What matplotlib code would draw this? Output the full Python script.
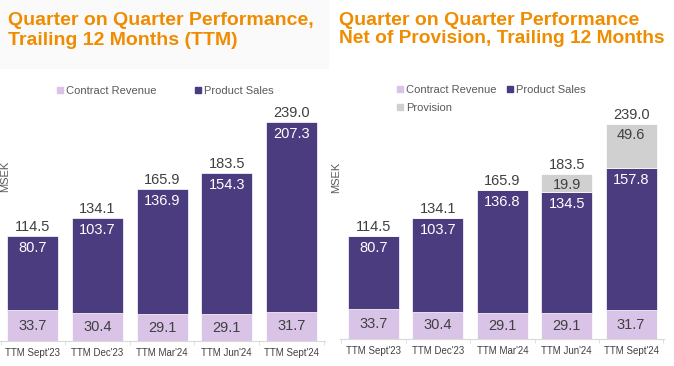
import matplotlib.pyplot as plt
from matplotlib.lines import Line2D
from matplotlib.patches import Rectangle
import numpy as np

plt.rcParams['font.family'] = ['Liberation Sans', 'DejaVu Sans']

# data
quarters = ["TTM Sept'23", "TTM Dec'23", "TTM Mar'24", "TTM Jun'24", "TTM Sept'24"]
contract = [33.7, 30.4, 29.1, 29.1, 31.7]
product_ttm = [80.7, 103.7, 136.9, 154.3, 207.3]
totals_ttm = [114.5, 134.1, 165.9, 183.5, 239.0]
product_net = [80.7, 103.7, 136.8, 134.5, 157.8]
provision = [0, 0, 0, 19.9, 49.6]
totals_net = [114.5, 134.1, 165.9, 183.5, 239.0]

C_CONTRACT = '#d9c3e6'
C_PRODUCT = '#4b3b7f'
C_PROVISION = '#d0d0d0'
ORANGE = '#f08c00'
GREY_TXT = '#404040'

W, H = 674, 366
fig = plt.figure(figsize=(W / 100, H / 100), dpi=100)
fig.patches.append(Rectangle((0, 1 - 68 / H), 328 / W, 68 / H, transform=fig.transFigure,
                             color='#fafafa', zorder=0))


def px_axes(left, top, right, bottom):
    return fig.add_axes([left / W, 1 - bottom / H, (right - left) / W, (bottom - top) / H])


def style(ax, xlim):
    x = np.arange(len(quarters))
    ax.set_xlim(*xlim)
    ax.set_ylim(0, 260)
    for s in ['top', 'right', 'left']:
        ax.spines[s].set_visible(False)
    ax.spines['bottom'].set_color('#d9d9d9')
    ax.set_yticks([])
    ax.set_xticks(x)
    ax.set_xticklabels(quarters, fontsize=7, color=GREY_TXT)
    ax.tick_params(axis='x', which='major', length=0, pad=5)
    ax.set_xticks(np.arange(len(quarters) + 1) - 0.5, minor=True)
    ax.tick_params(axis='x', which='minor', length=3, color='#d9d9d9')
    ax.patch.set_alpha(0)


def draw(ax, product, totals, prov=None):
    x = np.arange(len(quarters))
    w = 0.79
    ax.bar(x, contract, w, color=C_CONTRACT, edgecolor='white', linewidth=0.5)
    ax.bar(x, product, w, bottom=contract, color=C_PRODUCT, edgecolor='white', linewidth=0.5)
    top = np.array(contract) + np.array(product)
    if prov is not None:
        ax.bar(x, prov, w, bottom=top, color=C_PROVISION, edgecolor='white', linewidth=0.5)
    for i in range(len(x)):
        ax.text(x[i], contract[i] / 2, f'{contract[i]:.1f}', ha='center', va='center',
                fontsize=10.5, color=GREY_TXT)
        ax.annotate(f'{product[i]:.1f}', (x[i], top[i]), xytext=(0, -12),
                    textcoords='offset pixels', ha='center', va='center',
                    fontsize=10.5, color='white')
        if prov is not None and prov[i] > 0:
            ax.annotate(f'{prov[i]:.1f}', (x[i], top[i] + prov[i]), xytext=(0, -11),
                        textcoords='offset pixels', ha='center', va='center',
                        fontsize=10.5, color=GREY_TXT)
        ax.annotate(f'{totals[i]:.1f}', (x[i], totals[i]), xytext=(0, 2),
                    textcoords='offset pixels', ha='center', va='bottom',
                    fontsize=10.5, color=GREY_TXT)


def legend(handles, labels, x, y, ncol, colsp):
    fig.legend(handles, labels, loc='upper left', bbox_to_anchor=(x / W, 1 - y / H),
               ncol=ncol, frameon=False, fontsize=8, labelcolor='#595959',
               handlelength=0.5, handletextpad=0.3, columnspacing=colsp,
               borderpad=0, borderaxespad=0, labelspacing=0.75)


def sq(c):
    return Line2D([], [], marker='s', ls='', color=c, markersize=4.5)


# left panel
ax1 = px_axes(0, 341 - 260 * 0.917, 325, 341)
style(ax1, (-0.51, 4.52))
draw(ax1, product_ttm, totals_ttm)
fig.text(8 / W, 1 - 25 / H, 'Quarter on Quarter Performance,', fontsize=14, fontweight='bold',
         color=ORANGE, va='baseline')
fig.text(8 / W, 1 - 45 / H, 'Trailing 12 Months (TTM)', fontsize=14, fontweight='bold',
         color=ORANGE, va='baseline')
legend([sq(C_CONTRACT), sq(C_PRODUCT)], ['Contract Revenue', 'Product Sales'], 57, 86, 2, 3.5)
fig.text(0, 1 - 176 / H, 'MSEK', rotation=90, fontsize=8, color='#595959',
         ha='left', va='center')

# right panel
ax2 = px_axes(340, 339 - 260 * 0.9, 664, 339)
style(ax2, (-0.52, 4.51))
draw(ax2, product_net, totals_net, provision)
fig.text(339 / W, 1 - 25 / H, 'Quarter on Quarter Performance', fontsize=14, fontweight='bold',
         color=ORANGE, va='baseline')
fig.text(339 / W, 1 - 43 / H, 'Net of Provision, Trailing 12 Months', fontsize=13.8,
         fontweight='bold', color=ORANGE, va='baseline')
legend([sq(C_CONTRACT), sq(C_PROVISION), sq(C_PRODUCT)],
       ['Contract Revenue', 'Provision', 'Product Sales'], 397, 85, 2, 1.0)
fig.text(331 / W, 1 - 177 / H, 'MSEK', rotation=90, fontsize=8, color='#595959',
         ha='left', va='center')

fig.savefig('out.png', dpi=100)
